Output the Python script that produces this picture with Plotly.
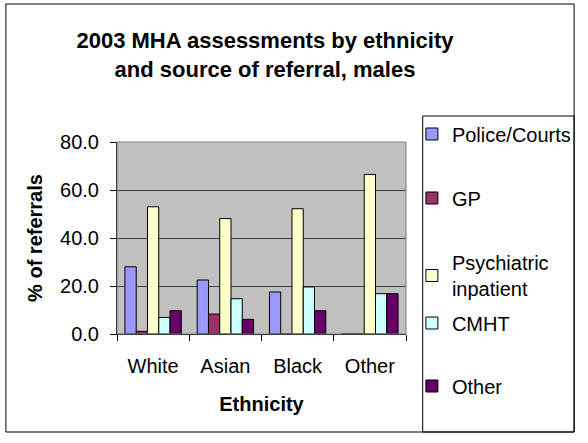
import plotly.graph_objects as go

categories = ["White", "Asian", "Black", "Other"]
series_names = ["Police/Courts", "GP", "Psychiatric<br>inpatient", "CMHT", "Other"]
police = [28.0, 22.5, 17.5, 0.0]
gp = [1.1, 8.3, 0.0, 0.0]
psych = [53.0, 48.1, 52.2, 66.5]
cmht = [6.9, 14.7, 19.6, 16.8]
other = [9.7, 6.1, 9.7, 16.8]
y_ticks = [0, 20, 40, 60, 80]
title_text = "2003 MHA assessments by ethnicity<br>and source of referral, males"

series_values = [police, gp, psych, cmht, other]
colors = ["#9999FF", "#993366", "#FFFFCC", "#CCFFFF", "#660066"]
FONT = "Liberation Sans, Arial, sans-serif"

# plot area in pixels
W, H = 588, 443
L, R, T, B = 117, 411, 142, 334
pw, ph = R - L, B - T

def px(x):
    return (x - L) / pw

def py(y):
    return (B - y) / ph

legend_centers = [134, 198, 275.5, 323, 386]
legend_names = ["legend", "legend2", "legend3", "legend4", "legend5"]

fig = go.Figure()
for name, vals, col, lg in zip(series_names, series_values, colors, legend_names):
    fig.add_trace(go.Bar(
        x=categories, y=vals, name=name,
        marker=dict(color=col, line=dict(color="black", width=1)),
        legend=lg,
    ))

layout_legends = {}
for lg, cy in zip(legend_names, legend_centers):
    layout_legends[lg] = dict(
        x=px(417), xanchor="left", y=py(cy), yanchor="middle",
        bgcolor="rgba(0,0,0,0)", borderwidth=0,
        font=dict(family=FONT, size=20, color="black"),
        itemclick=False, itemdoubleclick=False,
    )

fig.update_layout(
    width=W, height=H,
    margin=dict(l=L, r=W - R, t=T, b=H - B, pad=0),
    paper_bgcolor="white",
    plot_bgcolor="#C0C0C0",
    barmode="group",
    bargap=0.22,
    bargroupgap=0,
    font=dict(family=FONT, size=20, color="black"),
    title=dict(
        text=title_text,
        font=dict(family=FONT, size=22, color="black", weight="bold"),
        x=265 / W, xanchor="center", xref="container",
        y=1 - 48 / H, yanchor="top", yref="container",
    ),
    xaxis=dict(
        type="category",
        showline=True, linecolor="black", linewidth=1,
        ticks="outside", tickson="boundaries", ticklen=6, tickcolor="black",
        ticklabelstandoff=14,
        tickfont=dict(family=FONT, size=20),
        title=dict(text="<b>Ethnicity</b>", font=dict(family=FONT, size=20), standoff=20),
        showgrid=False,
    ),
    yaxis=dict(
        range=[0, 80], tickvals=y_ticks, tickformat=".1f",
        showline=True, linecolor="black", linewidth=1,
        ticks="outside", ticklen=6, tickcolor="black",
        ticklabelstandoff=7,
        tickfont=dict(family=FONT, size=20),
        showgrid=True, gridcolor="#404040", gridwidth=1,
        zeroline=False,
        title=dict(text="<b>% of referrals</b>", font=dict(family=FONT, size=20), standoff=12),
    ),
    shapes=[
        # plot area border (top/right)
        dict(type="rect", xref="paper", yref="paper", x0=0, x1=1, y0=0, y1=1,
             line=dict(color="#808080", width=1), layer="above"),
        # legend box
        dict(type="rect", xref="paper", yref="paper",
             x0=px(428), x1=px(582), y0=py(432), y1=py(116),
             line=dict(color="black", width=1)),
        # chart border
        dict(type="rect", xref="paper", yref="paper",
             x0=px(4), x1=px(582), y0=py(432), y1=py(4),
             line=dict(color="black", width=1)),
    ],
    showlegend=True,
    **layout_legends,
)

fig.write_html(
    "out.html",
    config={"displayModeBar": False},
    post_script="document.body.style.margin='0';document.body.style.overflow='hidden';",
)
